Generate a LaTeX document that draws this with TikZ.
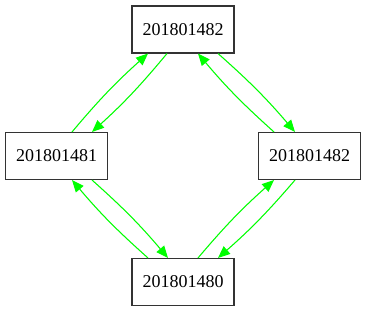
\documentclass[tikz,border=0pt]{standalone}
\usepackage{fontspec}
\setmainfont{Liberation Serif}
\usetikzlibrary{arrows.meta,calc}
\definecolor{linkgreen}{RGB}{0,255,0}
\begin{document}
\begin{tikzpicture}[x=0.75pt,y=-0.75pt,
  box/.style={draw=black!80, line width=0.8pt, minimum width=76.5pt, minimum height=35.25pt,
    inner sep=0pt, font=\fontsize{13.5}{16}\selectfont},
  link/.style={draw=linkgreen, line width=0.8pt, -{Triangle[length=9pt,width=7.5pt]}}]
\useasboundingbox (0,0) rectangle (366,313);
\node[box] (t) at (183,29.5) {201801482};
\node[box] (l) at (56.5,156) {201801481};
\node[box] (r) at (309.5,156) {201801482};
\node[box] (b) at (183,282) {201801480};
% top <-> left
\draw[link] ($(l.north)+(15.5,0)$) to[bend left=4] ($(t.south)+(-35,0)$);
\draw[link] ($(t.south)+(-16,0)$) to[bend left=4] ($(l.north)+(35.5,0)$);
% top <-> right
\draw[link] ($(t.south)+(35,0)$) to[bend left=4] ($(r.north)+(-14.5,0)$);
\draw[link] ($(r.north)+(-35.5,0)$) to[bend left=4] ($(t.south)+(15,0)$);
% left <-> bottom
\draw[link] ($(l.south)+(35.5,0)$) to[bend left=4] ($(b.north)+(-15,0)$);
\draw[link] ($(b.north)+(-35,0)$) to[bend left=4] ($(l.south)+(15.5,0)$);
% bottom <-> right
\draw[link] ($(b.north)+(15,0)$) to[bend left=4] ($(r.south)+(-35.5,0)$);
\draw[link] ($(r.south)+(-14.5,0)$) to[bend left=4] ($(b.north)+(35,0)$);
\end{tikzpicture}
\end{document}
